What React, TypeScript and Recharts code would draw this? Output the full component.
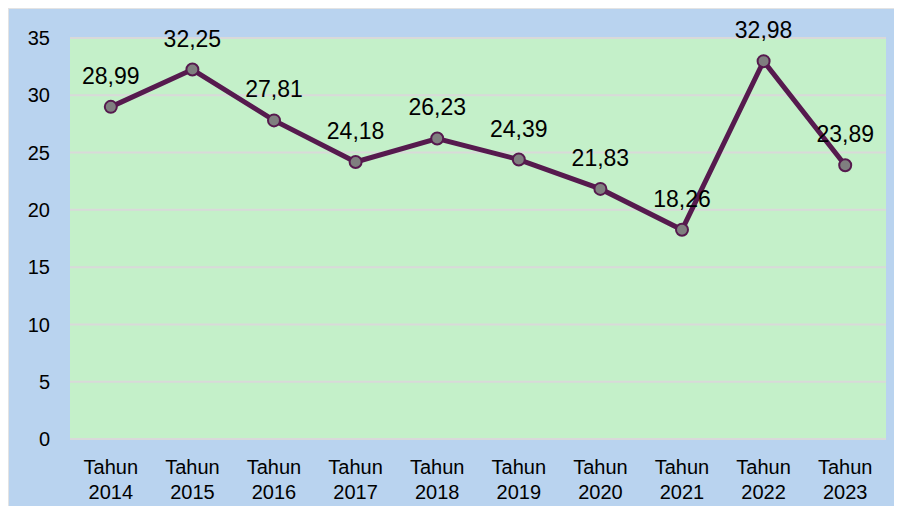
import { CartesianGrid, LabelList, Line, LineChart, XAxis, YAxis } from "recharts"

const years = ["2014", "2015", "2016", "2017", "2018", "2019", "2020", "2021", "2022", "2023"]
const values = [28.99, 32.25, 27.81, 24.18, 26.23, 24.39, 21.83, 18.26, 32.98, 23.89]
const yTicks = [0, 5, 10, 15, 20, 25, 30, 35]

const data = years.map((y, i) => ({
  name: `Tahun ${y}`,
  value: values[i],
}))

const font = "'Liberation Sans', Arial, sans-serif"

function YearTick(props: any) {
  const { x, y, payload } = props
  const [first, second] = String(payload.value).split(" ")
  return (
    <text x={x} y={y} textAnchor="middle" fontFamily={font} fontSize={20} fill="#000">
      <tspan x={x} dy={27}>{first}</tspan>
      <tspan x={x} dy={25}>{second}</tspan>
    </text>
  )
}

export default function App() {
  return (
    <div
      style={{
        margin: -8,
        width: 902,
        height: 514,
        background: "#e3e3e3",
        paddingLeft: 9,
        paddingTop: 9,
        boxSizing: "border-box",
      }}
    >
      <div style={{ width: 893, height: 505, background: "#b9d3ef" }}>
        <LineChart
          width={893}
          height={505}
          data={data}
          margin={{ top: 29, right: 16, bottom: 15, left: 11 }}
        >
          <CartesianGrid vertical={false} stroke="#d9d9d9" strokeWidth={2} fill="#c4f0c9" fillOpacity={1} />
          <XAxis
            dataKey="name"
            axisLine={false}
            tickLine={false}
            height={60}
            interval={0}
            padding={{ left: 40.8, right: 40.8 }}
            tick={<YearTick />}
          />
          <YAxis
            domain={[0, 35]}
            ticks={yTicks}
            width={50}
            axisLine={false}
            tickLine={false}
            tickSize={6}
            tickMargin={14}
            tick={{ fontSize: 20, fill: "#000", fontFamily: font }}
          />
          <Line
            dataKey="value"
            stroke="#561a4e"
            strokeWidth={5}
            dot={{ r: 6, fill: "#7f7f7f", stroke: "#561a4e", strokeWidth: 2 }}
            isAnimationActive={false}
          >
            <LabelList
              dataKey="value"
              position="top"
              offset={23}
              fontSize={23}
              fill="#000"
              fontFamily={font}
              formatter={(v: any) => String(v).replace(".", ",")}
            />
          </Line>
        </LineChart>
      </div>
    </div>
  )
}
